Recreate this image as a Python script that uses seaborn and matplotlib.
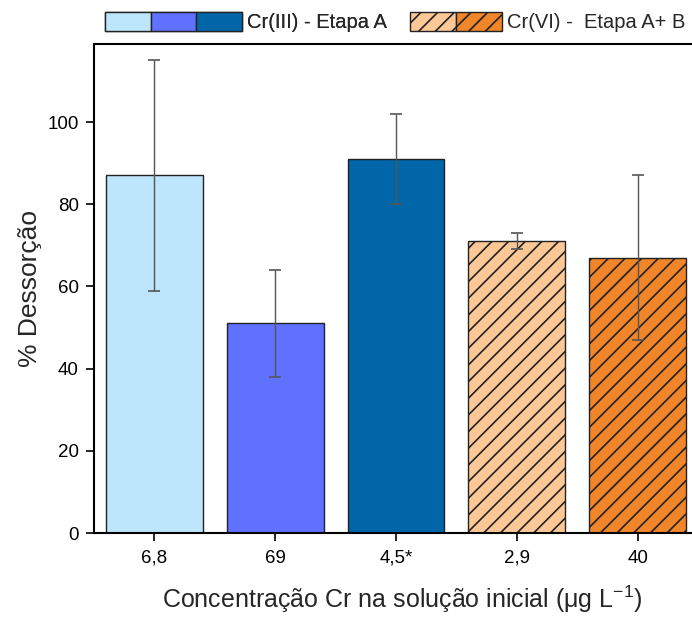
import matplotlib
matplotlib.use("Agg")
import matplotlib.pyplot as plt
import seaborn as sns
import pandas as pd
from matplotlib.patches import Patch
from matplotlib.legend_handler import HandlerTuple

categories = ["6,8", "69", "4,5*", "2,9", "40"]
values = [87, 51, 91, 71, 67]
errors = [28, 13, 11, 2, 20]
colors = ["#BDE5FB", "#6070FF", "#0066A8", "#FDC896", "#F0852A"]
hatches = ["", "", "", "//", "//"]
legend_labels = ["Cr(III) - Etapa A", "Cr(VI) -  Etapa A+ B"]

sns.set_theme(style="ticks")
plt.rcParams["font.family"] = ["Liberation Sans", "DejaVu Sans"]
plt.rcParams["hatch.linewidth"] = 1.2
plt.rcParams["mathtext.default"] = "regular"

df = pd.DataFrame({"cat": categories, "val": values})

W, H = 692, 619
fig = plt.figure(figsize=(W / 100, H / 100), dpi=100)
xmin, xmax = -0.50, 4.6
unit = 120.8
left = 94
bottom, top = 533, 44
width_px = (xmax - xmin) * unit
ax = fig.add_axes([left / W, (H - bottom) / H, width_px / W, (bottom - top) / H])

sns.barplot(data=df, x="cat", y="val", hue="cat", palette=colors, legend=False,
            saturation=1, errorbar=None, width=0.8, edgecolor="#222222",
            linewidth=1.0, ax=ax)
for p, h in zip(ax.patches, hatches):
    p.set_hatch(h)

ax.errorbar(range(len(categories)), values, yerr=errors, fmt="none",
            ecolor="#555555", elinewidth=1.0, capsize=4.5, capthick=1.2)

ax.set_xlim(xmin, xmax)
ax.set_ylim(0, 119)
ax.set_yticks([0, 20, 40, 60, 80, 100])
ax.tick_params(axis="both", direction="out", length=6, width=1.2, labelsize=13.5,
               colors="black")
ax.tick_params(axis="x", pad=6)
ax.tick_params(axis="y", pad=5)
for s in ax.spines.values():
    s.set_linewidth(1.5)
    s.set_color("black")
ax.set_xlabel("Concentração Cr na solução inicial (μg L$^{-1}$)",
              fontsize=18, labelpad=12)
ax.set_ylabel("% Dessorção", fontsize=19, labelpad=4)

def mk(c, h):
    return Patch(facecolor=c, edgecolor="#222222", hatch=h, linewidth=1.0)

blue = tuple(mk(c, h) for c, h in zip(colors[:3], hatches[:3]))
orange = tuple(mk(c, h) for c, h in zip(colors[3:], hatches[3:]))

fs = 14.5
em = fs * 100 / 72
leg1 = fig.legend([blue], [legend_labels[0]], handler_map={tuple: HandlerTuple(ndivide=None, pad=0)},
                  loc="center left", bbox_to_anchor=(105 / W, 1 - 22 / H), frameon=False,
                  fontsize=fs, handlelength=137 / em, handleheight=21 / em, handletextpad=0.25,
                  borderpad=0, borderaxespad=0)
leg2 = fig.legend([orange], [legend_labels[1]], handler_map={tuple: HandlerTuple(ndivide=None, pad=0)},
                  loc="center left", bbox_to_anchor=(410 / W, 1 - 22 / H), frameon=False,
                  fontsize=fs, handlelength=92 / em, handleheight=21 / em, handletextpad=0.25,
                  borderpad=0, borderaxespad=0)
fig.add_artist(leg1)

fig.savefig("out.png", dpi=100)
